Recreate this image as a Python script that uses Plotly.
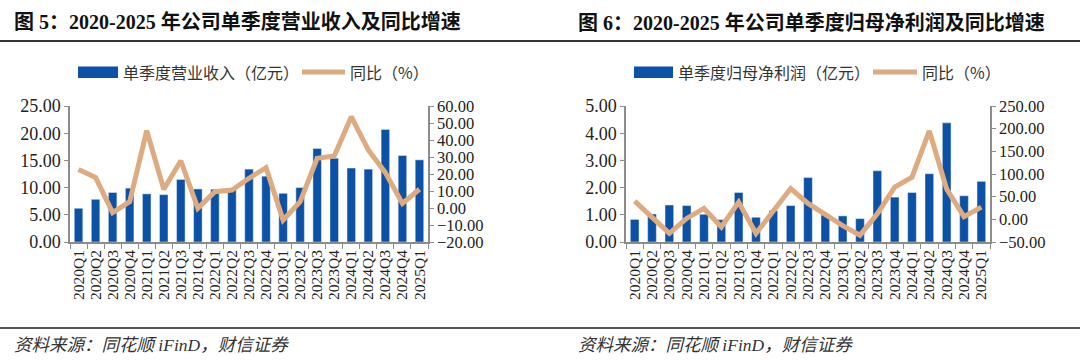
import plotly.graph_objects as go

quarters = ["2020Q1", "2020Q2", "2020Q3", "2020Q4", "2021Q1", "2021Q2", "2021Q3", "2021Q4",
            "2022Q1", "2022Q2", "2022Q3", "2022Q4", "2023Q1", "2023Q2", "2023Q3", "2023Q4",
            "2024Q1", "2024Q2", "2024Q3", "2024Q4", "2025Q1"]

revenue = [6.2, 7.85, 9.1, 9.9, 8.85, 8.7, 11.5, 9.75, 9.7, 9.6, 13.4, 12.1, 8.95, 10.0,
           17.2, 15.4, 13.6, 13.4, 20.7, 15.9, 15.1]
revenue_yoy = [22.7, 18.0, -2.7, 3.7, 45.5, 11.0, 27.8, -0.2, 9.6, 10.6, 17.5, 23.7, -7.1, 3.7,
               29.2, 30.6, 53.7, 34.1, 20.8, 2.7, 11.0]

profit = [0.83, 1.03, 1.36, 1.34, 1.02, 0.82, 1.82, 0.91, 1.15, 1.34, 2.37, 1.00, 0.96, 0.86,
          2.62, 1.65, 1.82, 2.51, 4.38, 1.70, 2.23]
profit_yoy = [40, 6, -31, 2, 24, -17, 38, -31, 18, 68, 35, 10, -14, -35, 12, 71, 93, 195, 67, 6, 27]

titles = ["图 5：2020-2025 年公司单季度营业收入及同比增速",
          "图 6：2020-2025 年公司单季度归母净利润及同比增速"]
bar_names = ["单季度营业收入（亿元）", "单季度归母净利润（亿元）"]
line_name = "同比（%）"
source = "资料来源：同花顺 iFinD，财信证券"

W, H = 1080, 360
BLUE = "#0B52A7"
TAN = "#DEAA80"
AXC = "#8C8C8C"
SERIF = "Liberation Serif, Noto Sans CJK SC"
CJK = "Noto Sans CJK SC"


def px(x):
    return x / W


def py(y):
    return (H - y) / H


fig = go.Figure()
fig.add_trace(go.Bar(x=quarters, y=revenue, name=bar_names[0], marker_color=BLUE,
                     xaxis="x", yaxis="y", showlegend=False))
fig.add_trace(go.Scatter(x=quarters, y=revenue_yoy, name=line_name, mode="lines",
                         line=dict(color=TAN, width=5), xaxis="x", yaxis="y2", showlegend=False))
fig.add_trace(go.Bar(x=quarters, y=profit, name=bar_names[1], marker_color=BLUE,
                     xaxis="x2", yaxis="y3", showlegend=False))
fig.add_trace(go.Scatter(x=quarters, y=profit_yoy, name=line_name, mode="lines",
                         line=dict(color=TAN, width=5), xaxis="x2", yaxis="y4", showlegend=False))

ydom = [py(242), py(106)]
xcommon = dict(type="category", tickangle=-90, showline=True, linecolor=AXC, linewidth=1.5,
               ticks="outside", tickson="boundaries", ticklen=5, tickcolor=AXC,
               tickmode="linear", dtick=1, automargin=False,
               tickfont=dict(family=SERIF, size=15.5, color="#222"), showgrid=False, zeroline=False)


def ycommon(size):
    return dict(showline=True, linecolor=AXC, linewidth=1.5, ticks="outside", ticklen=4,
                tickcolor=AXC, tickformat=".2f", showgrid=False, zeroline=False, automargin=False,
                tickfont=dict(family=SERIF, size=size, color="#222"))


fig.update_layout(
    width=W, height=H, margin=dict(l=0, r=0, t=0, b=0),
    paper_bgcolor="white", plot_bgcolor="white", bargap=0.5,
    xaxis=dict(domain=[px(70), px(428)], anchor="y", **xcommon),
    yaxis=dict(domain=ydom, anchor="x", range=[0, 25], dtick=5, **ycommon(18)),
    yaxis2=dict(overlaying="y", anchor="x", side="right", range=[-20, 60], dtick=10,
                **ycommon(16.5)),
    xaxis2=dict(domain=[px(626), px(990)], anchor="y3", **xcommon),
    yaxis3=dict(domain=ydom, anchor="x2", range=[0, 5], dtick=1, **ycommon(18)),
    yaxis4=dict(overlaying="y3", anchor="x2", side="right", range=[-50, 250], dtick=50,
                **ycommon(16.5)),
)

shapes = []
annotations = []
# rules
shapes.append(dict(type="line", xref="paper", yref="paper", x0=0, x1=1, y0=py(41), y1=py(41),
                   line=dict(color="#333", width=2)))
shapes.append(dict(type="line", xref="paper", yref="paper", x0=0, x1=1, y0=py(328), y1=py(328),
                   line=dict(color="#555", width=2)))

panels = [
    dict(tx=12, rect=(78, 118), t1=121, lin=(302, 345), t2=348),
    dict(tx=576, rect=(634, 673), t1=676, lin=(873, 917), t2=920),
]
for i, p in enumerate(panels):
    annotations.append(dict(text="<b>" + titles[i] + "</b>", xref="paper", yref="paper",
                            x=px(p["tx"]), y=py(22), xanchor="left", yanchor="middle",
                            showarrow=False, font=dict(family=SERIF, size=20, color="#111")))
    annotations.append(dict(text=source, xref="paper", yref="paper",
                            x=px(p["tx"]), y=py(345), xanchor="left", yanchor="middle",
                            showarrow=False,
                            font=dict(family=SERIF, size=17.5, color="#333", style="italic")))
    shapes.append(dict(type="rect", xref="paper", yref="paper", x0=px(p["rect"][0]),
                       x1=px(p["rect"][1]), y0=py(78), y1=py(66.5), fillcolor=BLUE,
                       line=dict(width=0)))
    annotations.append(dict(text=bar_names[i], xref="paper", yref="paper", x=px(p["t1"]),
                            y=py(72), xanchor="left", yanchor="middle", showarrow=False,
                            font=dict(family=CJK, size=16, color="#333")))
    shapes.append(dict(type="line", xref="paper", yref="paper", x0=px(p["lin"][0]),
                       x1=px(p["lin"][1]), y0=py(72), y1=py(72),
                       line=dict(color=TAN, width=5)))
    annotations.append(dict(text=line_name, xref="paper", yref="paper", x=px(p["t2"]),
                            y=py(72), xanchor="left", yanchor="middle", showarrow=False,
                            font=dict(family=CJK, size=16, color="#333")))

fig.update_layout(shapes=shapes, annotations=annotations)
fig.write_html("out.html", config={"displayModeBar": False},
               post_script="document.body.style.margin='0';document.body.style.overflow='hidden';")
